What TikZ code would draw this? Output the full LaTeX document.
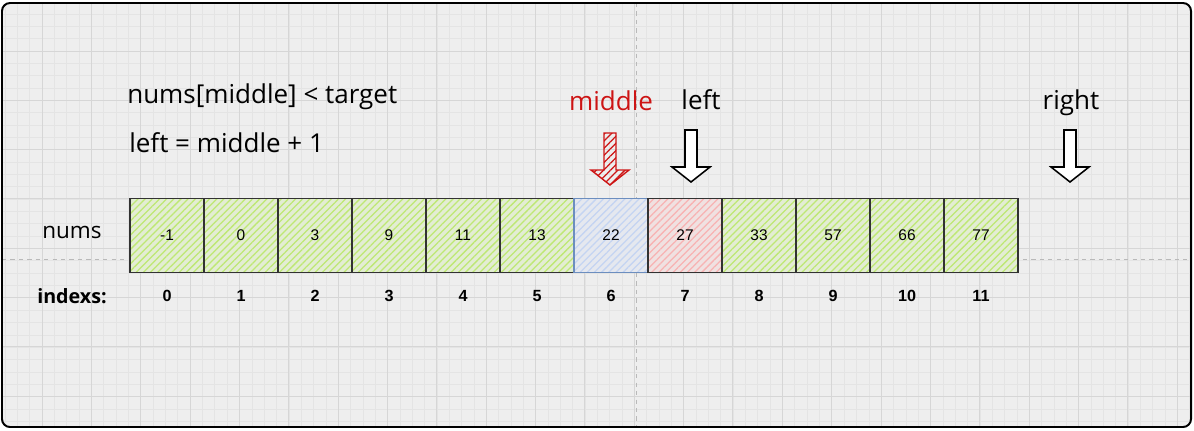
\documentclass[tikz,border=0pt]{standalone}
\usepackage{fontspec}
\setmainfont{Open Sans}
\newfontfamily\numfont{Liberation Sans}
\usetikzlibrary{positioning,patterns.meta}
\definecolor{canvas}{RGB}{238,238,238}
\definecolor{gridminor}{RGB}{228,228,228}
\definecolor{gridmajor}{RGB}{214,214,214}
\definecolor{guide}{RGB}{185,185,185}
\definecolor{cellline}{RGB}{50,50,50}
\definecolor{lime}{RGB}{190,232,115}
\definecolor{sky}{RGB}{196,212,242}
\definecolor{rose}{RGB}{248,178,178}
\definecolor{skyline}{RGB}{108,142,191}
\definecolor{arrowred}{RGB}{205,20,20}

\begin{document}
\begin{tikzpicture}[x=0.025cm,y=-0.025cm,
    hatch/.style={pattern={Lines[angle=45,distance=3.6pt,line width=0.9pt]},pattern color=#1},
    cell/.style={minimum size=1.85cm,inner sep=0,line width=1.1pt,
      font=\numfont\fontsize{11}{13}\selectfont,preaction={fill=#1!22!canvas},hatch=#1},
    idx/.style={font=\numfont\bfseries\fontsize{11.5}{13}\selectfont,inner sep=0},
    note/.style={font=\fontsize{18.5}{22}\selectfont,anchor=west,inner sep=0},
    ptr/.style={font=\fontsize{18.5}{22}\selectfont,inner sep=0},
    blockarrow/.pic={
      \path[pic actions] (-6,0) -- (6,0) -- (6,37) -- (19,37) -- (0,52)
        -- (-19,37) -- (-6,37) -- cycle;}]
  \useasboundingbox (0,0) rectangle (1194,430);
  % canvas and grid
  \fill[white] (0,0) rectangle (1194,430);
  \fill[canvas,rounded corners=0.2cm] (2,3) rectangle (1191,427);
  \begin{scope}
    \clip[rounded corners=0.2cm] (2,3) rectangle (1191,427);
    \foreach \k in {0,...,96}
      \draw[gridminor,line width=0.4pt] ({4.98+12.34*\k},3) -- ++(0,424);
    \foreach \k in {0,...,35}
      \draw[gridminor,line width=0.4pt] (2,{1.6+12.34*\k}) -- ++(1189,0);
    \foreach \k in {-1,...,23}
      \draw[gridmajor,line width=0.6pt] ({42+49.35*\k},3) -- ++(0,424);
    \foreach \k in {-1,...,8}
      \draw[gridmajor,line width=0.6pt] (2,{51+49.3*\k}) -- ++(1189,0);
    \draw[guide,dashed,line width=0.6pt] (636,3) -- (636,427);
    \draw[guide,dashed,line width=0.6pt] (2,259) -- (1191,259);
  \end{scope}
  \draw[line width=1.4pt,rounded corners=0.2cm] (2,3) rectangle (1191,427);

  % array cells and indexes
  \foreach \v/\c/\b [count=\i from 0] in {-1/lime/cellline,0/lime/cellline,
      3/lime/cellline,9/lime/cellline,11/lime/cellline,13/lime/cellline,
      22/sky/skyline,27/rose/cellline,33/lime/cellline,57/lime/cellline,
      66/lime/cellline,77/lime/cellline} {
    \node[cell=\c,draw=\b] (c\i) at ({167+74*\i},235.5) {\v};
    \node[idx,below=0.42cm of c\i] (i\i) {\i};
  }
  \node[ptr,font=\fontsize{16}{19}\selectfont] (nums) at (72,232) {nums};
  \node[ptr,font=\fontsize{14}{16}\selectfont\bfseries] (indexs) at (72,296) {indexs:};

  % condition
  \node[note] (cond) at (127,97) {nums[middle] < target};
  \node[note] (upd) at (129,143) {left = middle + 1};

  % pointers
  \pic[draw=arrowred,line width=1pt,preaction={fill=rose!40!canvas},
    hatch=arrowred] (pm) at (610,133) {blockarrow};
  \pic[draw=black,fill=white,line width=1.1pt] (pl) at (691,130) {blockarrow};
  \pic[draw=black,fill=white,line width=1.1pt] (pr) at (1070,130) {blockarrow};
  \node[ptr,text=arrowred] (middle) at (611,101) {middle};
  \node[ptr] (left) at (701,100) {left};
  \node[ptr] (right) at (1071,103) {right};
\end{tikzpicture}
\end{document}
